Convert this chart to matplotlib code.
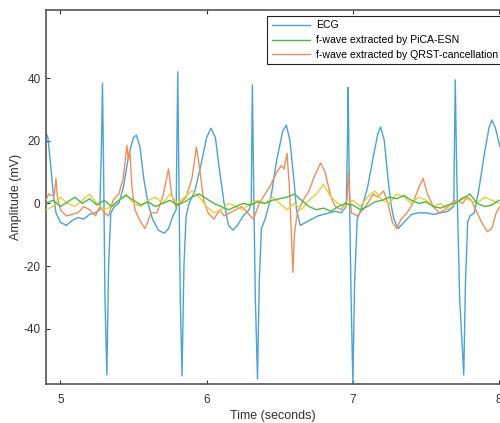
import numpy as np
import matplotlib
matplotlib.use("Agg")
import matplotlib.pyplot as plt

plt.rcParams['font.family'] = ['Liberation Sans', 'DejaVu Sans']
plt.rcParams['axes.unicode_minus'] = False

# ---- data ----
ecg_t = [4.902, 4.915, 4.93, 4.95, 4.97, 5.00, 5.04, 5.08, 5.12, 5.16, 5.20, 5.24, 5.27,
         5.282, 5.288, 5.296, 5.305, 5.318, 5.33, 5.345, 5.37, 5.40, 5.43, 5.47, 5.50, 5.52,
         5.545, 5.57, 5.60, 5.63, 5.67, 5.71, 5.74, 5.77, 5.792,
         5.797, 5.803, 5.81, 5.82, 5.832, 5.845, 5.86, 5.88, 5.92, 5.96, 6.00, 6.03, 6.06,
         6.09, 6.12, 6.15, 6.18, 6.21, 6.25, 6.29, 6.305,
         6.313, 6.322, 6.333, 6.348, 6.36, 6.375, 6.40, 6.44, 6.48, 6.52, 6.545, 6.57, 6.60,
         6.615, 6.64, 6.68, 6.72, 6.76, 6.80, 6.84, 6.88, 6.92, 6.955,
         6.963, 6.968, 6.976, 6.988, 7.0, 7.012, 7.03, 7.07, 7.10, 7.14, 7.17, 7.19, 7.215,
         7.24, 7.26, 7.28, 7.31, 7.35, 7.40, 7.45, 7.50, 7.55, 7.60, 7.65, 7.69,
         7.695, 7.70, 7.71, 7.73, 7.758, 7.77, 7.785, 7.80, 7.83, 7.86, 7.90, 7.93, 7.95,
         7.975, 8.006]
ecg_v = [22.5, 21, 14, 4, -3, -6, -7, -5.5, -4.5, -5, -3.5, -3, -2,
         20, 38.4, 10, -30, -54.7, -20, -3, -1, 0, 5, 16, 21, 21.8,
         18, 8, 0, -5, -8.5, -9.5, -8, -4, -2,
         20, 42, 10, -30, -55, -20, -4, 0, 4, 12, 21, 24, 21,
         10, 0, -7, -8.5, -7, -4, -2, 0,
         37.8, 5, -30, -56, -25, -8, -5, 2, 14, 23, 25, 20, 6,
         -2, -7, -6, -5, -4, -3.5, -3, -2.5, -3, -1,
         20, 37, 5, -30, -57.5, -25, -5, 0, 5, 15, 22, 24.4, 20,
         8, 0, -5, -8, -6, -3.5, -3, -3, -3.5, -3, -2.5, -1,
         20, 39.4, 10, -30, -54.7, -25, -6, -4, -3, 4, 16, 24, 26.6,
         24, 18]

qrst_t = [4.902, 4.92, 4.94, 4.96, 4.97, 4.98, 5.00, 5.04, 5.08, 5.12, 5.16, 5.20, 5.24,
          5.27, 5.30, 5.33, 5.36, 5.40, 5.43, 5.455, 5.465, 5.475, 5.49, 5.51, 5.55, 5.58,
          5.62, 5.66, 5.70, 5.74, 5.76, 5.79, 5.82, 5.86, 5.90, 5.93, 5.95, 5.98, 6.01,
          6.05, 6.09, 6.12, 6.16, 6.20, 6.24, 6.28, 6.32, 6.36, 6.40, 6.44, 6.48, 6.51,
          6.53, 6.55, 6.565, 6.58, 6.59, 6.60, 6.62, 6.66, 6.70, 6.74, 6.78, 6.81, 6.85,
          6.88, 6.92, 6.96, 6.97, 6.98, 6.99, 7.03, 7.07, 7.10, 7.14, 7.17, 7.21, 7.24,
          7.27, 7.30, 7.33, 7.37, 7.41, 7.45, 7.48, 7.51, 7.55, 7.59, 7.63, 7.67, 7.71,
          7.75, 7.78, 7.81, 7.84, 7.88, 7.92, 7.95, 7.98, 8.006]
qrst_v = [1, 3, 2.5, 3, 8, 2, -2, -4, -3.5, -3, -1, -2, -4,
          -1, -3, -4, 1, 3, 8, 18.5, 14, 17, 5, -2, -6, -8,
          -3, -3, 2, 11, 3, -1, 0, 2, 8, 18, 12, 1, -3,
          -5, -2, -4, -3, -2, -1, -3, -5, 0, 3, 6, 10, 12,
          11, 16, 6, -10, -22, -10, -3, 1, 4, 9, 12.9, 10, 2,
          -1, -2, 1, 10, 2, -3, -4, -2, 0, 3, 2, 4, 0,
          -6, -8, -5, -3, 0, 5, 8, 3, -1, -3, -2, 0, 1,
          0, 2, 1, -2, -6, -9, -8, -3, -1]

fw_t = [4.90, 4.95, 5.00, 5.05, 5.10, 5.15, 5.20, 5.25, 5.30, 5.35, 5.40, 5.45, 5.50,
        5.55, 5.60, 5.65, 5.70, 5.75, 5.80, 5.85, 5.90, 5.95, 6.00, 6.05, 6.10, 6.15,
        6.20, 6.25, 6.30, 6.35, 6.40, 6.45, 6.50, 6.55, 6.60, 6.65, 6.70, 6.75, 6.80,
        6.85, 6.90, 6.95, 7.00, 7.05, 7.10, 7.15, 7.20, 7.25, 7.30, 7.35, 7.40, 7.45,
        7.50, 7.55, 7.60, 7.65, 7.70, 7.75, 7.80, 7.85, 7.90, 7.95, 8.00]
pica_v = [0, 1, -1, 0.5, 2, 0, 1.5, -0.5, 1, -1, 1, 2.5, 1,
          -0.5, 0.5, -1, 0, 1, -0.5, 0.5, 2, 3, 1.5, 0, -1, -2,
          -1, 0, -0.5, 0.5, 0, 1, 1.5, 2, 3, 1, -1, -2, -1.5,
          -2.5, -1, 0, -0.5, -2, -1, 0.5, 1, 2, 1.5, 2.5, 1, 0,
          0.5, -1, -1.5, -0.5, 0, 1.5, 3, 0, -1, -0.5, 1]
extra_v = [-2, -1, 2, 0, -1, 1, 3, 0, -2, -1, 1, 3, 0,
           -1, 1, 2, 0, 3, 0, 2, 4, 2, -1, -3, -2, 0,
           -1, -2, 0, 1, 0, 2, 0, -2, 0, -2, 1, 3, 6,
           2, 0, -1, 1, -1, 2, 4, 1, 0, 3, 2, 0, 2,
           1, -1, 0, -2, 0, 2, 1, 0, 2, 1, 0]

labels = ['ECG', 'f-wave extracted by PiCA-ESN', 'f-wave extracted by QRST-cancellation']
xticks = [5, 6, 7, 8]
yticks = [-40, -20, 0, 20, 40]

# ---- figure ----
fig = plt.figure(figsize=(5.0, 4.23), dpi=100)
ax = fig.add_axes([46 / 500, 39 / 423, 454 / 500, 374 / 423])

l_ecg, = ax.plot(ecg_t, ecg_v, color='#4AA3D6', lw=1.0, zorder=2)
l_qrst, = ax.plot(qrst_t, qrst_v, color='#EE8F5A', lw=1.0, zorder=3)
ax.plot(fw_t, extra_v, color='#E8CF3A', lw=1.0, zorder=4)
l_pica, = ax.plot(fw_t, pica_v, color='#4DB84A', lw=1.0, zorder=5)

ax.set_xlim(4.902, 8.006)
ax.set_ylim(-57.6, 61.7)
ax.set_xticks(xticks)
ax.set_yticks(yticks)
ax.tick_params(direction='in', length=3, width=0.8, labelsize=8.5, colors='#333333',
               top=True, right=False)
ax.tick_params(axis='x', pad=7)
ax.tick_params(axis='y', pad=4)
for s in ['left', 'bottom', 'top']:
    ax.spines[s].set_color('#555555')
    ax.spines[s].set_linewidth(1.2)
ax.spines['right'].set_visible(False)

ax.set_xlabel('Time (seconds)', fontsize=9, color='#333333', labelpad=3)
ax.set_ylabel('Amplitude (mV)', fontsize=9, color='#333333', labelpad=1)

leg = fig.legend([l_ecg, l_pica, l_qrst], labels, loc='upper left',
                 bbox_to_anchor=(262 / 500, 1 - 11 / 423), fontsize=7.6,
                 handlelength=3.6, labelspacing=0.45, borderpad=0.4,
                 handletextpad=0.6, fancybox=False, framealpha=1)
leg.get_frame().set_edgecolor('#222222')
leg.get_frame().set_linewidth(0.8)

fig.savefig('out.png', dpi=100)
